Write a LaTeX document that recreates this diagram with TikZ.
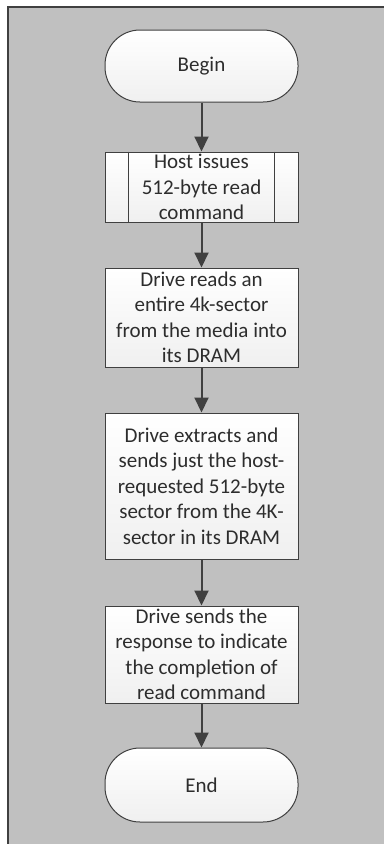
\documentclass[tikz,border=0pt]{standalone}
\usepackage{fontspec}
\setmainfont{Carlito}
\usepackage{tikz}
\usetikzlibrary{calc}
\usetikzlibrary{arrows.meta}

\definecolor{panelgray}{RGB}{192,192,192}
\definecolor{edgegray}{RGB}{64,64,64}
\definecolor{textgray}{RGB}{45,45,45}

\begin{document}
\begin{tikzpicture}[x=1pt,y=-1pt,
    box/.style={draw=edgegray,line width=1pt,top color=white,bottom color=gray!12,
      minimum width=193pt,inner sep=0pt,align=center,text=textgray,
      font=\fontsize{21}{25.5}\selectfont},
    terminal/.style={box,rounded corners=35pt},
    arr/.style={draw=edgegray,line width=2pt,-{Triangle[width=14pt,length=15pt]}}]
      \useasboundingbox (0,0) rectangle (384,844);
      % gray panel
      \fill[panelgray] (8,7) rectangle (384,844);
      \draw[edgegray,line width=1.5pt] (8,844) -- (8,7) -- (384,7);
      \node[terminal,minimum height=72pt] (begin) at (201.5,66) {Begin};
      \node[box,minimum height=70pt] (host) at (201.5,187) {Host issues\\512-byte read\\command};
      \draw[edgegray,line width=1pt] ([xshift=24pt]host.north west) -- ([xshift=24pt]host.south west);
      \draw[edgegray,line width=1pt] ([xshift=-24pt]host.north east) -- ([xshift=-24pt]host.south east);
      \node[box,minimum height=99pt] (reads) at (201.5,317.5) {Drive reads an\\entire 4k-sector\\from the media into\\its DRAM};
      \node[box,minimum height=146pt] (extract) at (201.5,486) {Drive extracts and\\sends just the host-\\requested 512-byte\\sector from the 4K-\\sector in its DRAM};
      \node[box,minimum height=97pt] (sends) at (201.5,654.5) {Drive sends the\\response to indicate\\the completion of\\read command};
      \node[terminal,minimum height=74pt] (end) at (201.5,785) {End};
      \draw[arr] (begin) -- (host);
      \draw[arr] (host) -- (reads);
      \draw[arr] (reads) -- (extract);
      \draw[arr] (extract) -- (sends);
      \draw[arr] (sends) -- (end);
\end{tikzpicture}
\end{document}
